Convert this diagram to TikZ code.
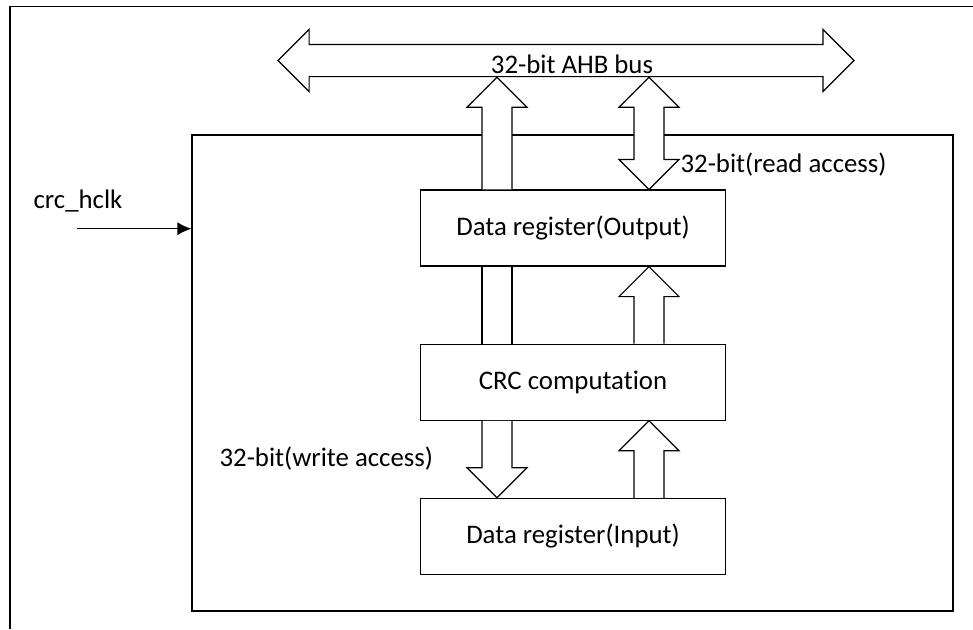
\documentclass[tikz,border=0pt]{standalone}
\usepackage{fontspec}
\setmainfont[Ligatures=NoCommon]{Carlito}
\usetikzlibrary{shapes.arrows,arrows.meta,calc,positioning}
\tikzstyle{lbl} = [font=\fontsize{13.4}{15}\selectfont, inner sep=0pt]
\tikzstyle{block} = [lbl, draw, rectangle,
                     minimum width=152.3pt, minimum height=38pt]
\tikzstyle{bus} = [draw, fill=white, double arrow, inner xsep=0pt,
                   inner ysep=7.75pt, minimum height=288pt,
                   minimum width=30.5pt, double arrow head extend=7.5pt]
\tikzstyle{barrow} = [draw, fill=white, line join=miter]
\tikzstyle{clkarrow} = [-{Latex[length=7pt,width=6.5pt]}]

\begin{document}
\begin{tikzpicture}[x=0.5pt, y=-0.5pt, line width=0.6pt]
  \useasboundingbox (0,0) rectangle (973,629);
  \draw (973,6.7) -- (10,6.7) -- (10,629);
  \node[draw, minimum width=380.5pt, minimum height=238pt] (periph) at (572.5,373) {};
  \node[bus] (bus) at (566,60.5) {};
  \node[block] (out) at (573,228) {Data register(Output)};
  \node[block, below=38.5pt of out] (crc) {CRC computation};
  \node[block, below=38.5pt of crc] (in) {Data register(Input)};
  \coordinate (lcol) at (497,0);
  \coordinate (rcol) at (649,0);
  % up arrows
  \foreach \a/\b/\c in {out/bus/lcol, crc/out/rcol, in/crc/rcol}
    \draw[barrow] ($(\c |- \a.north)+(-15,0)$) -- ($(\c |- \b.south)+(-15,30)$)
      -- ++(-15,0) -- (\c |- \b.south) -- ++(30,30) -- ++(-15,0)
      -- ($(\c |- \a.north)+(15,0)$);
  \draw ($(lcol |- crc.north)+(-15,0)$) -- ($(lcol |- out.south)+(-15,0)$)
        ($(lcol |- crc.north)+(15,0)$) -- ($(lcol |- out.south)+(15,0)$);
  % write access
  \draw[barrow] ($(lcol |- crc.south)+(-15,0)$) -- ($(lcol |- in.north)+(-15,-30)$)
    -- ++(-15,0) -- (lcol |- in.north) -- ++(30,-30) -- ++(-15,0)
    -- ($(lcol |- crc.south)+(15,0)$);
  % read access
  \draw[barrow] (rcol |- bus.south) -- ++(30,30) -- ++(-15,0)
    -- ($(rcol |- out.north)+(15,-30)$) -- ++(15,0) -- (rcol |- out.north)
    -- ++(-30,-30) -- ++(15,0) -- ($(rcol |- bus.south)+(-15,30)$)
    -- ++(-15,0) -- cycle;
  \node[lbl] (buslbl) at (572,64) {32-bit AHB bus};
  \node[lbl, anchor=west] (rdlbl) at (680,165) {32-bit(read access)};
  \node[lbl, anchor=west] (wrlbl) at (219,459) {32-bit(write access)};
  \node[lbl, anchor=west] (clk) at (33,201) {crc\_hclk};
  \coordinate (clkin) at (77,228.7);
  \draw[clkarrow] (clkin) -- (clkin -| periph.west);
\end{tikzpicture}
\end{document}
